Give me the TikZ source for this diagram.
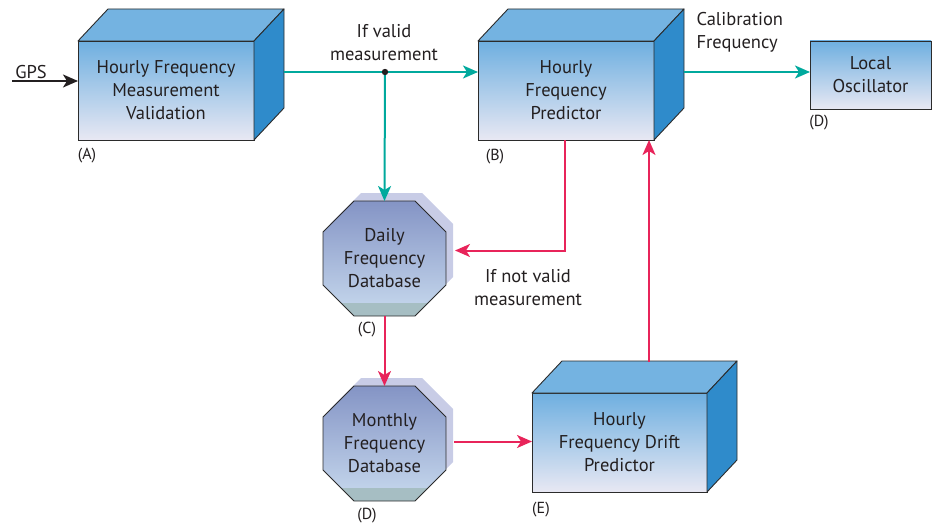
\documentclass[tikz,border=0pt]{standalone}
\usepackage{fontspec}
\setmainfont{PT Sans}
\usetikzlibrary{arrows.meta,calc}

\definecolor{inkc}{HTML}{231F20}
\definecolor{tealc}{HTML}{00A99D}
\definecolor{redc}{HTML}{E8245A}
\definecolor{facetop}{HTML}{6EAFE0}
\definecolor{facebot}{HTML}{E8E8F3}
\definecolor{lidc}{HTML}{74B3E1}
\definecolor{sidec}{HTML}{2F8BCB}
\definecolor{octtop}{HTML}{8494C5}
\definecolor{octbot}{HTML}{C8DAEE}
\definecolor{octstrip}{HTML}{A6BEC3}
\definecolor{octshadow}{HTML}{C8CCE6}
\definecolor{edgec}{HTML}{2B2B2B}

\tikzset{
  txt/.style={font=\fontsize{18.5}{23}\selectfont, text=inkc, align=center},
  tag/.style={font=\fontsize{16}{18}\selectfont, text=inkc},
  front/.style={draw=edgec, line width=0.9pt, rectangle, inner sep=0pt, outer sep=0pt,
    top color=facetop, bottom color=facebot, txt},
  lid/.style={draw=edgec, line width=0.9pt, fill=lidc, line join=round},
  side/.style={draw=edgec, line width=0.9pt, fill=sidec, line join=round},
  dbase/.style={rectangle, minimum width=123pt, minimum height=115pt,
    inner sep=0pt, outer sep=0pt, txt},
  octedge/.style={draw=edgec, line width=0.9pt, line join=round},
  okline/.style={draw=tealc, line width=2pt},
  badline/.style={draw=redc, line width=2pt},
  tip/.style={-{Stealth[length=15pt,width=13pt,inset=4pt]}},
}

% lid and side faces of a box, offset back by (30,32)
\newcommand\cubefaces[1]{%
  \path[lid] (#1.north west) -- ++(30,-32) -- ([shift={(30,-32)}]#1.north east)
    -- (#1.north east) -- cycle;
  \path[side] (#1.north east) -- ([shift={(30,-32)}]#1.north east)
    -- ([shift={(30,-32)}]#1.south east) -- (#1.south east) -- cycle;}

% octagon round a node, moved by (#2,#3)
\newcommand\octpath[3]{%
  ([shift={(31+#2,#3)}]#1.north west) -- ([shift={(-31+#2,#3)}]#1.north east)
  -- ([shift={(#2,31+#3)}]#1.north east) -- ([shift={(#2,-31+#3)}]#1.south east)
  -- ([shift={(-31+#2,#3)}]#1.south east) -- ([shift={(31+#2,#3)}]#1.south west)
  -- ([shift={(#2,-31+#3)}]#1.south west) -- ([shift={(#2,31+#3)}]#1.north west) -- cycle}

% database octagon: lavender shadow, shaded body, bottom strip, outline
\newcommand\dbshape[1]{%
  \fill[octshadow] \octpath{#1}{7}{-8};
  \begin{scope}
    \clip \octpath{#1}{0}{0};
    \shade[top color=octtop, bottom color=octbot]
      (#1.north west) rectangle (#1.south east);
    \fill[octstrip] ([yshift=13pt]#1.south west) rectangle (#1.south east);
  \end{scope}
  \path[octedge] \octpath{#1}{0}{0};}

\begin{document}
\begin{tikzpicture}[x=1pt,y=-1pt]
\useasboundingbox (0,0) rectangle (933,524);

% boxes
\node[front, minimum width=176pt, minimum height=99pt] (A) at (166,90.5)
  {Hourly Frequency\\Measurement\\Validation};
\cubefaces{A}
\node[front, minimum width=176pt, minimum height=99pt] (B) at (566,90.5)
  {Hourly\\Frequency\\Predictor};
\cubefaces{B}
\node[front, minimum width=175pt, minimum height=99pt] (E) at (619.5,442.5)
  {Hourly\\Frequency Drift\\Predictor};
\cubefaces{E}
\node[front, minimum width=121pt, minimum height=68pt] (LO) at (870.5,75)
  {Local\\Oscillator};

% databases
\node[dbase] (Daily) at (384.5,258.5) {};
\dbshape{Daily}
\node[txt] (Dailyt) at (Daily.center) {Daily\\Frequency\\Database};
\node[dbase] (Monthly) at (384.5,443.5) {};
\dbshape{Monthly}
\node[txt] (Monthlyt) at (Monthly.center) {Monthly\\Frequency\\Database};

% tags
\node[tag] (tA) at (87,156) {(A)};
\node[tag] (tB) at (495,157) {(B)};
\node[tag] (tLO) at (819,123) {(D)};
\node[tag] (tC) at (367,330) {(C)};
\node[tag] (tM) at (367,516) {(D)};
\node[tag] (tE) at (541,510) {(E)};

% GPS input
\node[txt] (gpsl) at (31,72) {GPS};
\coordinate (gps) at (12,81);
\draw[line width=2pt, draw=inkc, tip] (gps) -- (gps -| A.west);

% valid measurement path
\coordinate (Aout) at ([shift={(30,-18.5)}]A.east);
\coordinate (j) at (385,72);
\draw[okline] (Aout) -- (j);
\draw[okline, tip] (j) -- (B.west |- j);
\draw[okline, tip] (j) -- (Daily.north);
\fill[inkc] (j) circle (3.2pt);
\node[txt] (validl) at (384,43) {If valid\\measurement};

% calibration output
\coordinate (Bout) at ([shift={(30,-18.5)}]B.east);
\draw[okline, tip] (Bout) -- (Bout -| LO.west);
\node[txt, align=left, anchor=west] (calib) at (693,32) {Calibration\\Frequency};

% not valid path
\coordinate (Bdown) at ([xshift=87pt]B.south west);
\coordinate (Din) at ([shift={(9,-8)}]Daily.east);
\draw[badline, tip] (Bdown) |- (Din);
\node[txt] (invalidl) at (528,288) {If not valid\\measurement};

% database flow and drift feedback
\draw[badline, tip] (Daily.south) -- (Monthly.north);
\coordinate (Mout) at ([shift={(8,-2)}]Monthly.east);
\draw[badline, tip] (Mout) -- (Mout -| E.west);
\coordinate (Eup) at ([shift={(117,-31)}]E.north west);
\draw[badline, tip] (Eup) -- (Eup |- B.south);
\end{tikzpicture}
\end{document}
